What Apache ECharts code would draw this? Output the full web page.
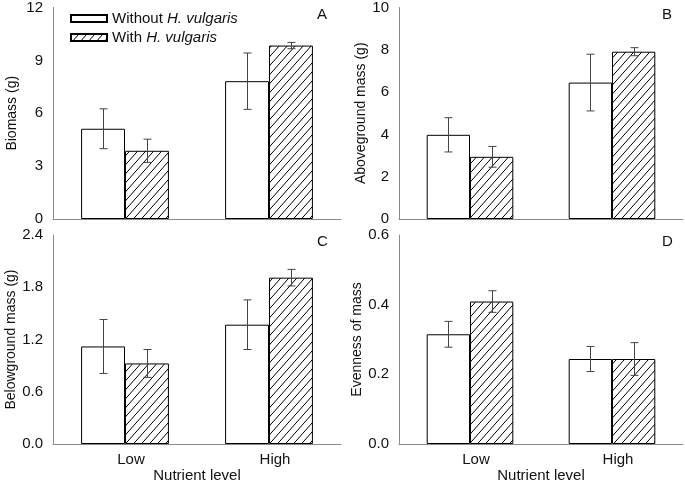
<!DOCTYPE html>
<html>
<head>
<meta charset="utf-8">
<script src="https://cdn.jsdelivr.net/npm/echarts@6/dist/echarts.min.js"></script>
<style>
  html, body { margin: 0; padding: 0; background: #fff; }
  #chart { width: 685px; height: 484px; }
</style>
</head>
<body>
<div id="chart"></div>
<script>
// categories and values (mean, standard error)
var categories = ['Low', 'High'];

var biomassWithout = [5.12, 7.82];
var biomassWithoutErr = [1.13, 1.60];
var biomassWith = [3.87, 9.84];
var biomassWithErr = [0.66, 0.18];

var aboveWithout = [3.98, 6.45];
var aboveWithoutErr = [0.81, 1.34];
var aboveWith = [2.94, 7.91];
var aboveWithErr = [0.49, 0.19];

var belowWithout = [1.12, 1.37];
var belowWithoutErr = [0.31, 0.285];
var belowWith = [0.925, 1.91];
var belowWithErr = [0.16, 0.095];

var evenWithout = [0.315, 0.244];
var evenWithoutErr = [0.037, 0.036];
var evenWith = [0.409, 0.244];
var evenWithErr = [0.031, 0.047];

var FONT = '"Liberation Sans", Arial, sans-serif';
var AXIS_GREY = '#8a8a8a';
var BAR_FRAC = 0.305;

// diagonal hatch tile
function makeHatch() {
  var w = 8, h = 9;
  var c = document.createElement('canvas');
  c.width = w;
  c.height = h;
  var ctx = c.getContext('2d');
  ctx.fillStyle = '#fff';
  ctx.fillRect(0, 0, w, h);
  ctx.strokeStyle = '#000';
  ctx.lineWidth = 1;
  for (var k = -1; k <= 1; k++) {
    ctx.beginPath();
    ctx.moveTo(k * w - 1, h + h / w);
    ctx.lineTo(k * w + w + 1, -h / w);
    ctx.stroke();
  }
  return c;
}
var hatch = { image: makeHatch(), repeat: 'repeat' };

var panels = [
  { key: 'A', name: 'Biomass (g)', max: 12, interval: 3, digits: 0, gap: 34,
    without: biomassWithout, withoutErr: biomassWithoutErr, with: biomassWith, withErr: biomassWithErr,
    grid: { left: 53, right: 344, top: 7, height: 212 }, bottomRow: false },
  { key: 'B', name: 'Aboveground mass (g)', max: 10, interval: 2, digits: 0, gap: 31,
    without: aboveWithout, withoutErr: aboveWithoutErr, with: aboveWith, withErr: aboveWithErr,
    grid: { left: 399, right: 2, top: 7, height: 212 }, bottomRow: false },
  { key: 'C', name: 'Belowground mass (g)', max: 2.4, interval: 0.6, digits: 1, gap: 34,
    without: belowWithout, withoutErr: belowWithoutErr, with: belowWith, withErr: belowWithErr,
    grid: { left: 53, right: 344, top: 235, height: 212 }, bottomRow: true },
  { key: 'D', name: 'Evenness of mass', max: 0.6, interval: 0.2, digits: 1, gap: 31,
    without: evenWithout, withoutErr: evenWithoutErr, with: evenWith, withErr: evenWithErr,
    grid: { left: 399, right: 2, top: 235, height: 212 }, bottomRow: true }
];

function errorSeries(gi, values, errs, side) {
  var data = [];
  for (var i = 0; i < values.length; i++) {
    data.push([i, values[i], errs[i]]);
  }
  return {
    type: 'custom',
    xAxisIndex: gi,
    yAxisIndex: gi,
    silent: true,
    z: 5,
    encode: { x: 0, y: 1 },
    data: data,
    renderItem: function(params, api) {
      var band = api.size([1, 0])[0];
      var dx = side * band * BAR_FRAC / 2;
      var v = api.value(1), e = api.value(2);
      var top = api.coord([api.value(0), v + e]);
      var bot = api.coord([api.value(0), v - e]);
      var x = Math.round(top[0] + dx) + 0.5;
      var cap = 4;
      var style = { stroke: '#444', lineWidth: 1 };
      return {
        type: 'group',
        children: [
          { type: 'line', shape: { x1: x, y1: top[1], x2: x, y2: bot[1] }, style: style },
          { type: 'line', shape: { x1: x - cap, y1: top[1], x2: x + cap, y2: top[1] }, style: style },
          { type: 'line', shape: { x1: x - cap, y1: bot[1], x2: x + cap, y2: bot[1] }, style: style }
        ]
      };
    }
  };
}

var grids = [], xAxes = [], yAxes = [], series = [], titles = [];

panels.forEach(function(p, gi) {
  grids.push(p.grid);
  xAxes.push({
    type: 'category',
    gridIndex: gi,
    data: categories,
    name: p.bottomRow ? 'Nutrient level' : '',
    nameLocation: 'middle',
    nameGap: 24,
    nameTextStyle: { fontFamily: FONT, fontSize: 15, color: '#111' },
    axisLine: { lineStyle: { color: AXIS_GREY, width: 1 } },
    axisTick: { show: false },
    axisLabel: {
      show: p.bottomRow,
      fontFamily: FONT, fontSize: 15, color: '#111',
      margin: 8,
      padding: [0, 0, 0, 12]
    }
  });
  yAxes.push({
    type: 'value',
    gridIndex: gi,
    min: 0,
    max: p.max,
    interval: p.interval,
    name: p.name,
    nameLocation: 'middle',
    nameRotate: 90,
    nameGap: p.gap,
    nameTextStyle: { fontFamily: FONT, fontSize: 14, color: '#111' },
    splitLine: { show: false },
    axisLine: { show: true, lineStyle: { color: AXIS_GREY, width: 1 } },
    axisTick: { show: false },
    axisLabel: {
      fontFamily: FONT, fontSize: 15, color: '#111', margin: 10,
      formatter: (function(d) { return function(v) { return v.toFixed(d); }; })(p.digits)
    }
  });
  series.push({
    type: 'bar',
    name: 'Without',
    xAxisIndex: gi,
    yAxisIndex: gi,
    data: p.without,
    barWidth: (BAR_FRAC * 100) + '%',
    barGap: '0%',
    itemStyle: { color: '#fff', borderColor: '#000', borderWidth: 1 },
    silent: true
  });
  series.push({
    type: 'bar',
    name: 'With',
    xAxisIndex: gi,
    yAxisIndex: gi,
    data: p.with,
    barWidth: (BAR_FRAC * 100) + '%',
    barGap: '0%',
    itemStyle: { color: hatch, borderColor: '#000', borderWidth: 1 },
    silent: true
  });
  series.push(errorSeries(gi, p.without, p.withoutErr, -1));
  series.push(errorSeries(gi, p.with, p.withErr, 1));
  titles.push({
    text: p.key,
    left: gi % 2 === 0 ? 317 : 662,
    top: gi < 2 ? 7 : 234,
    padding: 0,
    textStyle: { fontFamily: FONT, fontSize: 15, fontWeight: 'normal', color: '#111' }
  });
});

var chart = echarts.init(document.getElementById('chart'), null, { renderer: 'canvas' });
chart.setOption({
  animation: false,
  backgroundColor: '#fff',
  title: titles,
  legend: {
    orient: 'vertical',
    left: 70,
    top: 11,
    padding: 0,
    itemWidth: 36,
    itemHeight: 7,
    itemGap: 4,
    icon: 'rect',
    selectedMode: false,
    data: ['Without', 'With'],
    formatter: function(name) {
      return '{n|' + name + ' }{i|H. vulgaris}';
    },
    textStyle: {
      fontFamily: FONT, fontSize: 15, color: '#111',
      rich: {
        n: { fontFamily: FONT, fontSize: 15, color: '#111' },
        i: { fontFamily: FONT, fontSize: 15, color: '#111', fontStyle: 'italic' }
      }
    }
  },
  grid: grids,
  xAxis: xAxes,
  yAxis: yAxes,
  series: series
});
</script>
</body>
</html>
